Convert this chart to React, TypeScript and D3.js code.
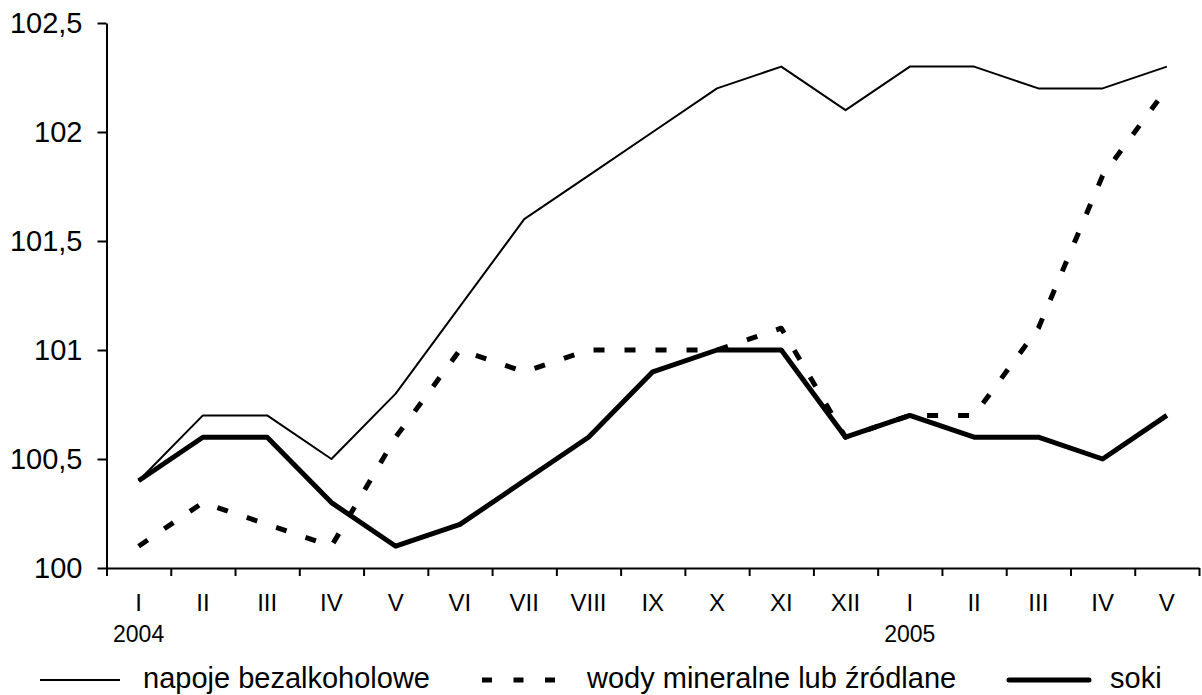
import { useEffect, useRef } from 'react';
import * as d3 from 'd3';

// months Jan 2004 .. May 2005
const months = ['I', 'II', 'III', 'IV', 'V', 'VI', 'VII', 'VIII', 'IX', 'X', 'XI', 'XII', 'I', 'II', 'III', 'IV', 'V'];
const years = [{ index: 0, label: '2004' }, { index: 12, label: '2005' }];
const yTicks = [100, 100.5, 101, 101.5, 102, 102.5];

const napoje = [100.4, 100.7, 100.7, 100.5, 100.8, 101.2, 101.6, 101.8, 102.0, 102.2, 102.3, 102.1, 102.3, 102.3, 102.2, 102.2, 102.3];
const wody = [100.1, 100.3, 100.2, 100.1, 100.6, 101.0, 100.9, 101.0, 101.0, 101.0, 101.1, 100.6, 100.7, 100.7, 101.1, 101.8, 102.2];
const soki = [100.4, 100.6, 100.6, 100.3, 100.1, 100.2, 100.4, 100.6, 100.9, 101.0, 101.0, 100.6, 100.7, 100.6, 100.6, 100.5, 100.7];

const seriesNames = ['napoje bezalkoholowe', 'wody mineralne lub źródlane', 'soki'];

const FONT = '"Liberation Sans", Arial, sans-serif';

const App = () => {
    const svgRef = useRef<SVGSVGElement>(null);
    const width = 1202;
    const height = 695;

    useEffect(() => {
        const svg = d3.select(svgRef.current);
        svg.selectAll('*').remove();

        const left = 106.5, right = 1199, top = 23, bottom = 568;

        const y = d3.scaleLinear().domain([100, 102.5]).range([bottom, top]);
        const xBand = d3.scaleBand<number>().domain(d3.range(months.length)).range([left, right]).padding(0);
        const xEdge = d3.scaleLinear().domain([0, months.length]).range([left, right]);
        const cx = (i: number) => (xBand(i) as number) + xBand.bandwidth() / 2;

        // y axis
        const yAxis = svg.append('g')
            .attr('transform', `translate(${left},0)`)
            .call(d3.axisLeft(y).tickValues(yTicks).tickSizeInner(9).tickSizeOuter(0).tickPadding(15)
                .tickFormat((d) => String(d).replace('.', ',')));
        yAxis.attr('font-family', FONT).attr('font-size', 29);
        yAxis.selectAll('path, line').attr('stroke', '#000').attr('stroke-width', 2);
        yAxis.selectAll('text').attr('fill', '#000');

        // x axis: tick marks at band edges
        const xAxis = svg.append('g')
            .attr('transform', `translate(0,${bottom})`)
            .call(d3.axisBottom(xEdge).tickValues(d3.range(months.length + 1)).tickSizeInner(8).tickSizeOuter(0)
                .tickFormat(() => ''));
        xAxis.selectAll('path, line').attr('stroke', '#000').attr('stroke-width', 2);

        // x labels at band centres
        const xLabels = svg.append('g')
            .attr('transform', `translate(0,${bottom})`)
            .call(d3.axisBottom(xBand).tickSize(0).tickPadding(26).tickFormat((i) => months[i as number]));
        xLabels.attr('font-family', FONT).attr('font-size', 24);
        xLabels.select('.domain').remove();
        xLabels.selectAll('text').attr('fill', '#000');

        svg.append('g')
            .selectAll('text')
            .data(years)
            .enter().append('text')
            .attr('x', (d) => cx(d.index))
            .attr('y', 642)
            .attr('text-anchor', 'middle')
            .attr('font-family', FONT)
            .attr('font-size', 23)
            .text((d) => d.label);

        const line = d3.line<number>().x((d, i) => cx(i)).y((d) => y(d));

        const styles = [
            { data: napoje, width: 2, dash: null },
            { data: wody, width: 5, dash: '11 20' },
            { data: soki, width: 5, dash: null },
        ];

        styles.forEach((s) => {
            svg.append('path')
                .datum(s.data)
                .attr('d', line)
                .attr('fill', 'none')
                .attr('stroke', '#000')
                .attr('stroke-width', s.width)
                .attr('stroke-dasharray', s.dash)
                .attr('stroke-linejoin', 'round');
        });

        // legend
        const legendY = 680;
        const legend = [
            { x1: 40, x2: 120, tx: 143, width: 2, dash: null, cap: 'butt' },
            { x1: 482, x2: 556, tx: 587, width: 5, dash: '10 21.5', cap: 'butt' },
            { x1: 1009, x2: 1089, tx: 1110, width: 5, dash: null, cap: 'round' },
        ];
        const lg = svg.append('g');
        legend.forEach((l, i) => {
            lg.append('line')
                .attr('x1', l.x1).attr('x2', l.x2)
                .attr('y1', legendY).attr('y2', legendY)
                .attr('stroke', '#000')
                .attr('stroke-width', l.width)
                .attr('stroke-dasharray', l.dash)
                .attr('stroke-linecap', l.cap);
            lg.append('text')
                .attr('x', l.tx)
                .attr('y', 688)
                .attr('font-family', FONT)
                .attr('font-size', 29)
                .text(seriesNames[i]);
        });
    }, []);

    return (
        <svg
            ref={svgRef}
            width={width}
            height={height}
            style={{ position: 'absolute', left: 0, top: 0, background: '#fff' }}
        />
    );
};

export default App;
